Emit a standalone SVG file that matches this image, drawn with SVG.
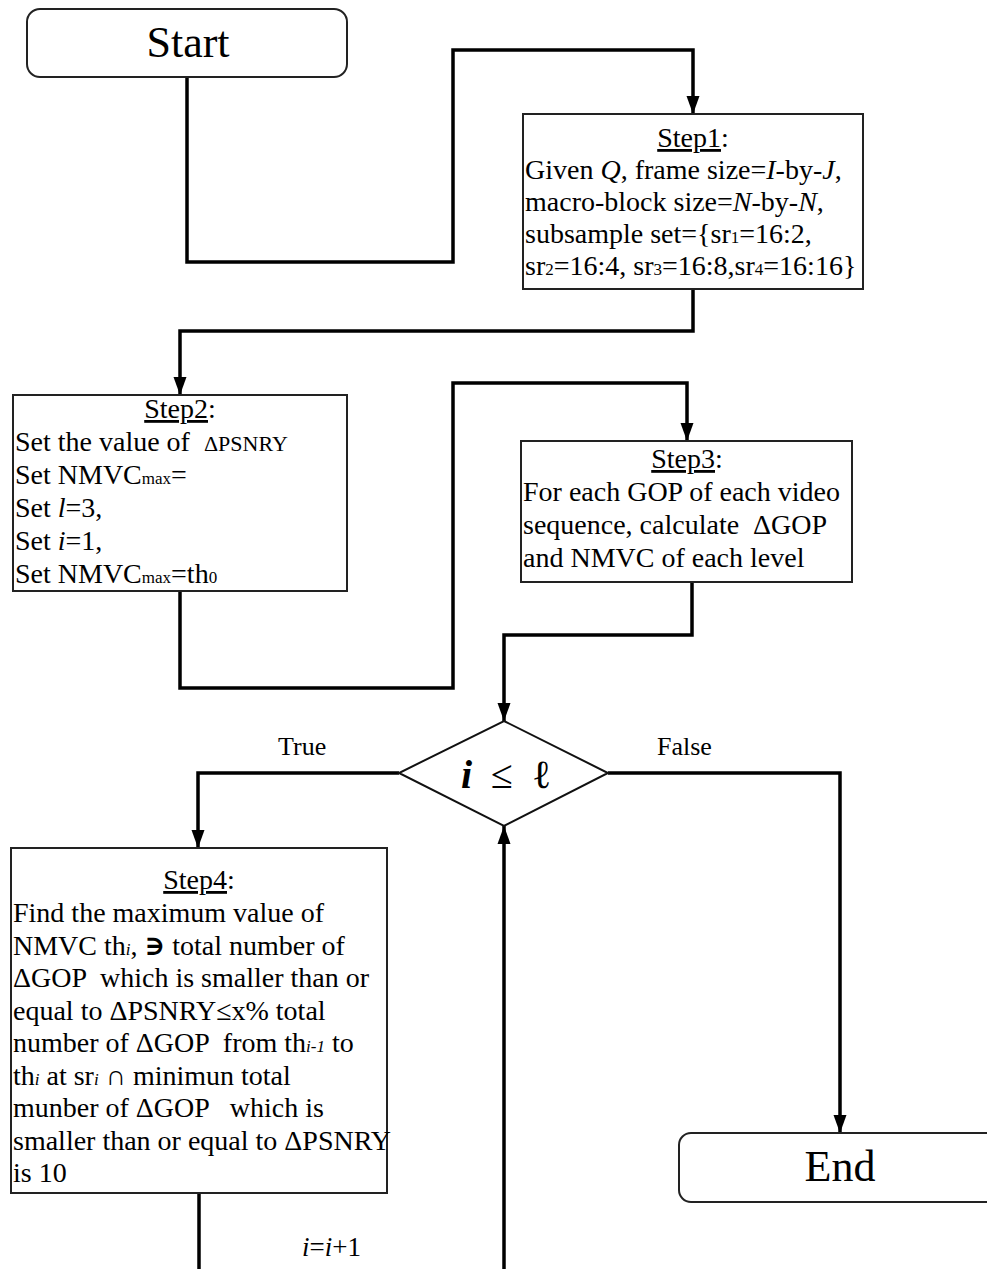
<svg xmlns="http://www.w3.org/2000/svg" width="987" height="1269" viewBox="0 0 987 1269">
<style>
text{font-family:"Liberation Serif","DejaVu Serif",serif;fill:#000;white-space:pre}
.box{fill:#fff;stroke:#222;stroke-width:2}
.t{font-size:28px}
.sub{font-size:17px}
.big{font-size:44px}
.lbl{font-size:26px}
.conn{fill:none;stroke:#000;stroke-width:3.5}
</style>
<defs>
<marker id="arrD" markerUnits="userSpaceOnUse" markerWidth="18" markerHeight="14" refX="18" refY="7" orient="auto" viewBox="0 0 18 14">
<path d="M0,0.5 L18,7 L0,13.5 Z" fill="#000"/>
</marker>
</defs>
<g id="connectors">
<path class="conn" d="M187,77 V262 H453 V50 H693 V114" marker-end="url(#arrD)"/>
<path class="conn" d="M693,289 V331 H180 V395" marker-end="url(#arrD)"/>
<path class="conn" d="M180,591 V688 H453 V383 H687 V441" marker-end="url(#arrD)"/>
<path class="conn" d="M692,582 V635 H504 V721" marker-end="url(#arrD)"/>
<path class="conn" d="M399,773 H198 V848" marker-end="url(#arrD)"/>
<path class="conn" d="M608,773 H840 V1133" marker-end="url(#arrD)"/>
<path class="conn" d="M199,1193 V1269"/>
<path class="conn" d="M504,1269 V826" marker-end="url(#arrD)"/>
<text class="lbl" x="278" y="755">True</text>
<text class="lbl" x="657" y="755">False</text>
<text style="font-size:27px" x="302" y="1256"><tspan font-style="italic">i</tspan>=<tspan font-style="italic">i</tspan>+1</text>
</g>
<g id="start">
<rect class="box" x="27" y="9" width="320" height="68" rx="13"/>
<text class="big" x="188" y="57" text-anchor="middle">Start</text>
</g>
<g id="step1">
<rect class="box" x="523" y="114" width="340" height="175"/>
<text class="t" x="693" y="147" text-anchor="middle"><tspan text-decoration="underline">Step1</tspan>:</text>
<text class="t" x="525" y="179">Given <tspan font-style="italic">Q</tspan>, frame size=<tspan font-style="italic">I</tspan>-by-<tspan font-style="italic">J</tspan>,</text>
<text class="t" x="525" y="211">macro-block size=<tspan font-style="italic">N</tspan>-by-<tspan font-style="italic">N</tspan>,</text>
<text class="t" x="525" y="243">subsample set={sr<tspan class="sub">1</tspan>=16:2,</text>
<text class="t" x="525" y="275">sr<tspan class="sub">2</tspan>=16:4, sr<tspan class="sub">3</tspan>=16:8,sr<tspan class="sub">4</tspan>=16:16}</text>
</g>
<g id="step2">
<rect class="box" x="13" y="395" width="334" height="196"/>
<text class="t" x="180" y="418" text-anchor="middle"><tspan text-decoration="underline">Step2</tspan>:</text>
<text class="t" x="15" y="451">Set the value of  <tspan style="font-size:22px">ΔPSNRY</tspan></text>
<text class="t" x="15" y="484">Set NMVC<tspan class="sub">max</tspan>=</text>
<text class="t" x="15" y="517">Set <tspan font-style="italic">l</tspan>=3,</text>
<text class="t" x="15" y="550">Set <tspan font-style="italic">i</tspan>=1,</text>
<text class="t" x="15" y="583">Set NMVC<tspan class="sub">max</tspan>=th<tspan class="sub">0</tspan></text>
</g>
<g id="step3">
<rect class="box" x="521" y="441" width="331" height="141"/>
<text class="t" x="687" y="468" text-anchor="middle"><tspan text-decoration="underline">Step3</tspan>:</text>
<text class="t" x="523" y="501">For each GOP of each video</text>
<text class="t" x="523" y="534">sequence, calculate  ΔGOP</text>
<text class="t" x="523" y="567">and NMVC of each level</text>
</g>
<g id="decision">
<polygon points="504,721 608,773 504,826 399,773" fill="#fff" stroke="#111" stroke-width="2"/>
<text style="font-size:40px" y="788"><tspan x="461" font-style="italic" font-weight="bold">i</tspan><tspan x="491">≤</tspan><tspan x="532">ℓ</tspan></text>
</g>
<g id="step4">
<rect class="box" x="11" y="848" width="376" height="345"/>
<text class="t" x="199" y="889" text-anchor="middle"><tspan text-decoration="underline">Step4</tspan>:</text>
<text class="t" x="13" y="922">Find the maximum value of</text>
<text class="t" x="13" y="954.5">NMVC th<tspan class="sub" font-style="italic">i</tspan>, <tspan font-weight="bold">∋</tspan> total number of</text>
<text class="t" x="13" y="987">ΔGOP  which is smaller than or</text>
<text class="t" x="13" y="1019.5">equal to ΔPSNRY≤x% total</text>
<text class="t" x="13" y="1052">number of ΔGOP  from th<tspan class="sub" font-style="italic">i-1</tspan> to</text>
<text class="t" x="13" y="1084.5">th<tspan class="sub" font-style="italic">i</tspan> at sr<tspan class="sub" font-style="italic">i</tspan> ∩ minimun total</text>
<text class="t" x="13" y="1117">munber of ΔGOP   which is</text>
<text class="t" x="13" y="1149.5">smaller than or equal to ΔPSNRY</text>
<text class="t" x="13" y="1182">is 10</text>
</g>
<g id="end">
<rect class="box" x="679" y="1133" width="330" height="69" rx="12"/>
<text class="big" x="840" y="1181" text-anchor="middle">End</text>
</g>
</svg>
